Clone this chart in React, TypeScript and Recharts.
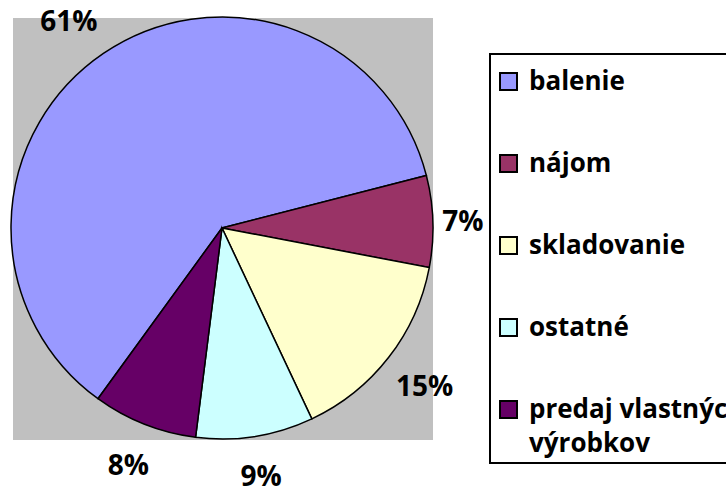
import { PieChart, Pie, Cell, Legend } from "recharts";

const categories = ["balenie", "nájom", "skladovanie", "ostatné", "predaj vlastných výrobkov"];
const shares = [61, 7, 15, 9, 8];
const colors = ["#9999FF", "#993366", "#FFFFCC", "#CCFFFF", "#660066"];

const FONT = "'Open Sans', Lato, sans-serif";
const RAD = Math.PI / 180;

const data = categories.map((name, i) => ({ name, value: shares[i] }));

// Excel-like "best fit" outside labels: tighter on the sides, looser top/bottom
function PctLabel(props: any) {
  const { cx, cy, midAngle, outerRadius, value } = props;
  const c = Math.cos(midAngle * RAD);
  const s = Math.sin(midAngle * RAD);
  const off = 47 - 17 * Math.pow(Math.abs(c), 10) - 9 * Math.pow(Math.max(0, -s), 12);
  const t = 21 * Math.pow(Math.max(0, s), 4); // small counter-clockwise nudge for upper labels
  const d = outerRadius + off;
  const x = cx + d * c - t * s;
  const y = cy - d * s - t * c;
  return (
    <text x={x} y={y} textAnchor="middle" dominantBaseline="central"
      fill="#000" fontFamily={FONT} fontWeight={700} fontSize={28}>
      {`${value}%`}
    </text>
  );
}

function LegendBox() {
  return (
    <div style={{ border: "2px solid #000", background: "#fff", height: 411, width: 300, padding: "8px 0 0 8px", boxSizing: "border-box" }}>
      {categories.map((name, i) => (
        <div key={name} style={{ position: "relative", paddingLeft: 30, marginBottom: 48 }}>
          <span style={{ position: "absolute", left: 0, top: 9, width: 15, height: 15, background: colors[i], border: "2px solid #000" }} />
          <div style={{ width: 240, fontFamily: FONT, fontWeight: 700, fontSize: 26, lineHeight: "34px", color: "#000" }}>
            {name}
          </div>
        </div>
      ))}
    </div>
  );
}

export default function App() {
  return (
    <div style={{ position: "absolute", left: 0, top: 0, width: 726, height: 488, background: "#fff", overflow: "hidden" }}>
      {/* plot area */}
      <div style={{ position: "absolute", left: 13, top: 18, width: 420, height: 422, background: "#C0C0C0" }} />
      <div style={{ position: "absolute", left: 0, top: 0 }}>
        <PieChart width={726} height={488} margin={{ top: 0, right: 0, bottom: 0, left: 0 }}>
          <Pie data={data} dataKey="value" nameKey="name" cx={222} cy={228} outerRadius={211}
            startAngle={234} endAngle={-126} stroke="#000" strokeWidth={1.5}
            label={PctLabel} labelLine={false} isAnimationActive={false}>
            {data.map((d, i) => (
              <Cell key={d.name} fill={colors[i]} stroke="#000" strokeWidth={1.5} />
            ))}
          </Pie>
          <Legend content={<LegendBox />} wrapperStyle={{ position: "absolute", left: 489, top: 53, width: 300 }} />
        </PieChart>
      </div>
    </div>
  );
}
